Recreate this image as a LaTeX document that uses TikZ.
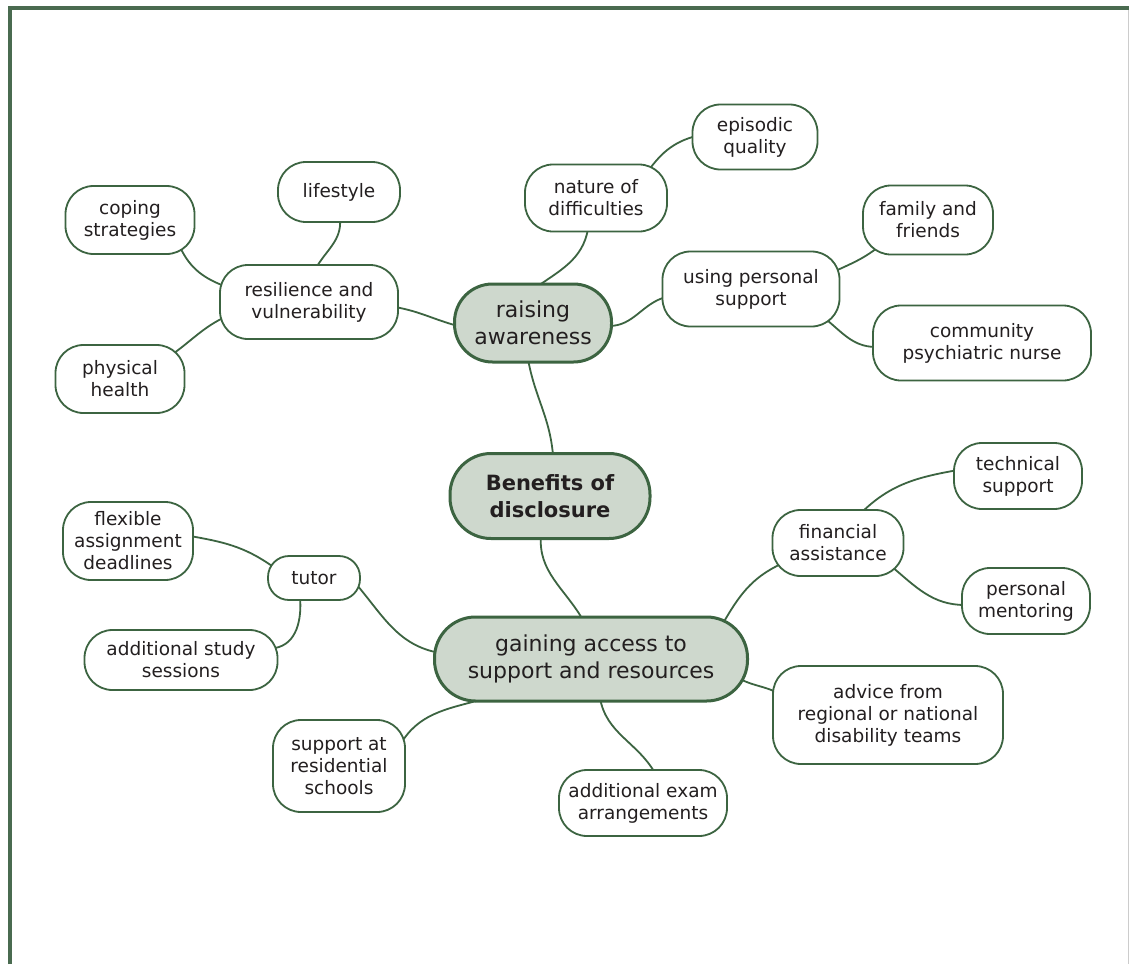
\documentclass[tikz,border=0pt]{standalone}
\usepackage{fontspec}
\setmainfont{DejaVu Sans}
\usetikzlibrary{calc}
\definecolor{framecol}{RGB}{74,107,80}
\definecolor{edgecol}{RGB}{60,100,65}
\definecolor{corefill}{RGB}{206,216,205}
\definecolor{ink}{RGB}{35,31,32}
\pgfdeclarelayer{back}
\pgfdeclarelayer{links}
\pgfsetlayers{back,links,main}
\begin{document}
\begin{tikzpicture}[x=1pt,y=1pt,
  leaf/.style={draw=edgecol, line width=1.8pt, fill=white, rounded corners=28pt, align=center, inner sep=0pt, text=ink, font=\fontsize{18.5}{22}\selectfont},
  core/.style={draw=edgecol, line width=3pt, fill=corefill, rounded corners=38pt, align=center, inner sep=0pt, text=ink, font=\fontsize{22}{27}\selectfont},
  link/.style={draw=edgecol, line width=1.8pt},
  sz/.style 2 args={minimum width=#1pt, minimum height=#2pt},
]
\useasboundingbox (0,0) rectangle (1129,-964);
\begin{pgfonlayer}{back}
\fill[white] (0,0) rectangle (1129,-964);
\draw[framecol, line width=4pt] (10,-964) -- (10,-8) -- (1129,-8);
\draw[black!20, line width=1pt] (1128.5,-10) -- (1128.5,-964);
\end{pgfonlayer}

% core nodes
\node[core, sz={200}{85}, rounded corners=41pt, font=\fontsize{21}{27}\selectfont\bfseries] (ben) at (550,-496) {Benefits of\\disclosure};
\node[core, sz={157}{78}] (raise) at (533,-323) {raising\\awareness};
\node[core, sz={313}{84}, rounded corners=41pt] (gain) at (591,-659) {gaining access to\\support and resources};

% leaves
\node[leaf, sz={178}{74}] (resil) at (309,-302) {resilience and\\vulnerability};
\node[leaf, sz={122}{60}] (life) at (339,-192) {lifestyle};
\node[leaf, sz={129}{68}] (coping) at (130,-220) {coping\\strategies};
\node[leaf, sz={129}{68}] (phys) at (120,-379) {physical\\health};
\node[leaf, sz={142}{67}] (nature) at (596,-198) {nature of\\difficulties};
\node[leaf, sz={125}{65}] (epis) at (755,-137) {episodic\\quality};
\node[leaf, sz={177}{75}] (using) at (751,-289) {using personal\\support};
\node[leaf, sz={130}{69}] (family) at (928,-220) {family and\\friends};
\node[leaf, sz={218}{75}] (commun) at (982,-343) {community\\psychiatric nurse};
\node[leaf, sz={128}{66}] (tech) at (1018,-476) {technical\\support};
\node[leaf, sz={131}{66}] (fin) at (838,-543) {financial\\assistance};
\node[leaf, sz={128}{66}] (ment) at (1026,-601) {personal\\mentoring};
\node[leaf, sz={230}{98}] (advice) at (888,-715) {advice from\\regional or national\\disability teams};
\node[leaf, sz={168}{66}] (exam) at (643,-803) {additional exam\\arrangements};
\node[leaf, sz={132}{92}] (resid) at (339,-766) {support at\\residential\\schools};
\node[leaf, sz={193}{60}] (study) at (181,-660) {additional study\\sessions};
\node[leaf, sz={92}{44}, rounded corners=21pt] (tutor) at (314,-578) {tutor};
\node[leaf, sz={130}{78}] (flex) at (128,-541) {flexible\\assignment\\deadlines};

\begin{pgfonlayer}{links}
\draw[link] ($(ben)+(3,41)$) to[out=95,in=-80] ($(raise)+(-5,-36)$);
\draw[link] ($(ben)+(-9,-39)$) to[out=-95,in=120] ($(gain)+(-8,39)$);
\draw[link] ($(raise)+(-75,-3)$) to[out=165,in=-10] ($(resil)+(86,-5)$);
\draw[link] ($(raise)+(2,35)$) to[out=35,in=-100] ($(nature)+(-8,-31)$);
\draw[link] ($(nature)+(50,24)$) to[out=55,in=195] ($(epis)+(-59,1)$);
\draw[link] ($(raise)+(76,-3)$) to[out=0,in=195] ($(using)+(-85,-8)$);
\draw[link] ($(using)+(80,16)$) to[out=25,in=-140] ($(family)+(-46,-24)$);
\draw[link] ($(using)+(68,-25)$) to[out=-35,in=180] ($(commun)+(-106,-4)$);
\draw[link] ($(resil)+(7,34)$) to[out=60,in=-85] ($(life)+(1,-27)$);
\draw[link] ($(resil)+(-82,15)$) to[out=160,in=-65] ($(coping)+(50,-27)$);
\draw[link] ($(resil)+(-82,-14)$) to[out=205,in=35] ($(phys)+(50,23)$);
\draw[link] ($(gain)+(131,34)$) to[out=60,in=205] ($(fin)+(-57,-21)$);
\draw[link] ($(fin)+(22,29)$) to[out=45,in=190] ($(tech)+(-60,6)$);
\draw[link] ($(fin)+(53,-23)$) to[out=-40,in=180] ($(ment)+(-61,-4)$);
\draw[link] ($(gain)+(151,-21)$) to[out=-25,in=130] ($(advice)+(-100,13)$);
\draw[link] ($(gain)+(9,-39)$) to[out=-80,in=120] ($(exam)+(12,30)$);
\draw[link] ($(gain)+(-111,-41)$) to[out=195,in=60] ($(resid)+(61,21)$);
\draw[link] ($(gain)+(-151,6)$) to[out=170,in=-50] ($(tutor)+(43,-7)$);
\draw[link] ($(tutor)+(-42,12)$) to[out=145,in=-10] ($(flex)+(62,5)$);
\draw[link] ($(tutor)+(-14,-19)$) to[out=-85,in=10] ($(study)+(94,12)$);
\end{pgfonlayer}
\end{tikzpicture}
\end{document}
